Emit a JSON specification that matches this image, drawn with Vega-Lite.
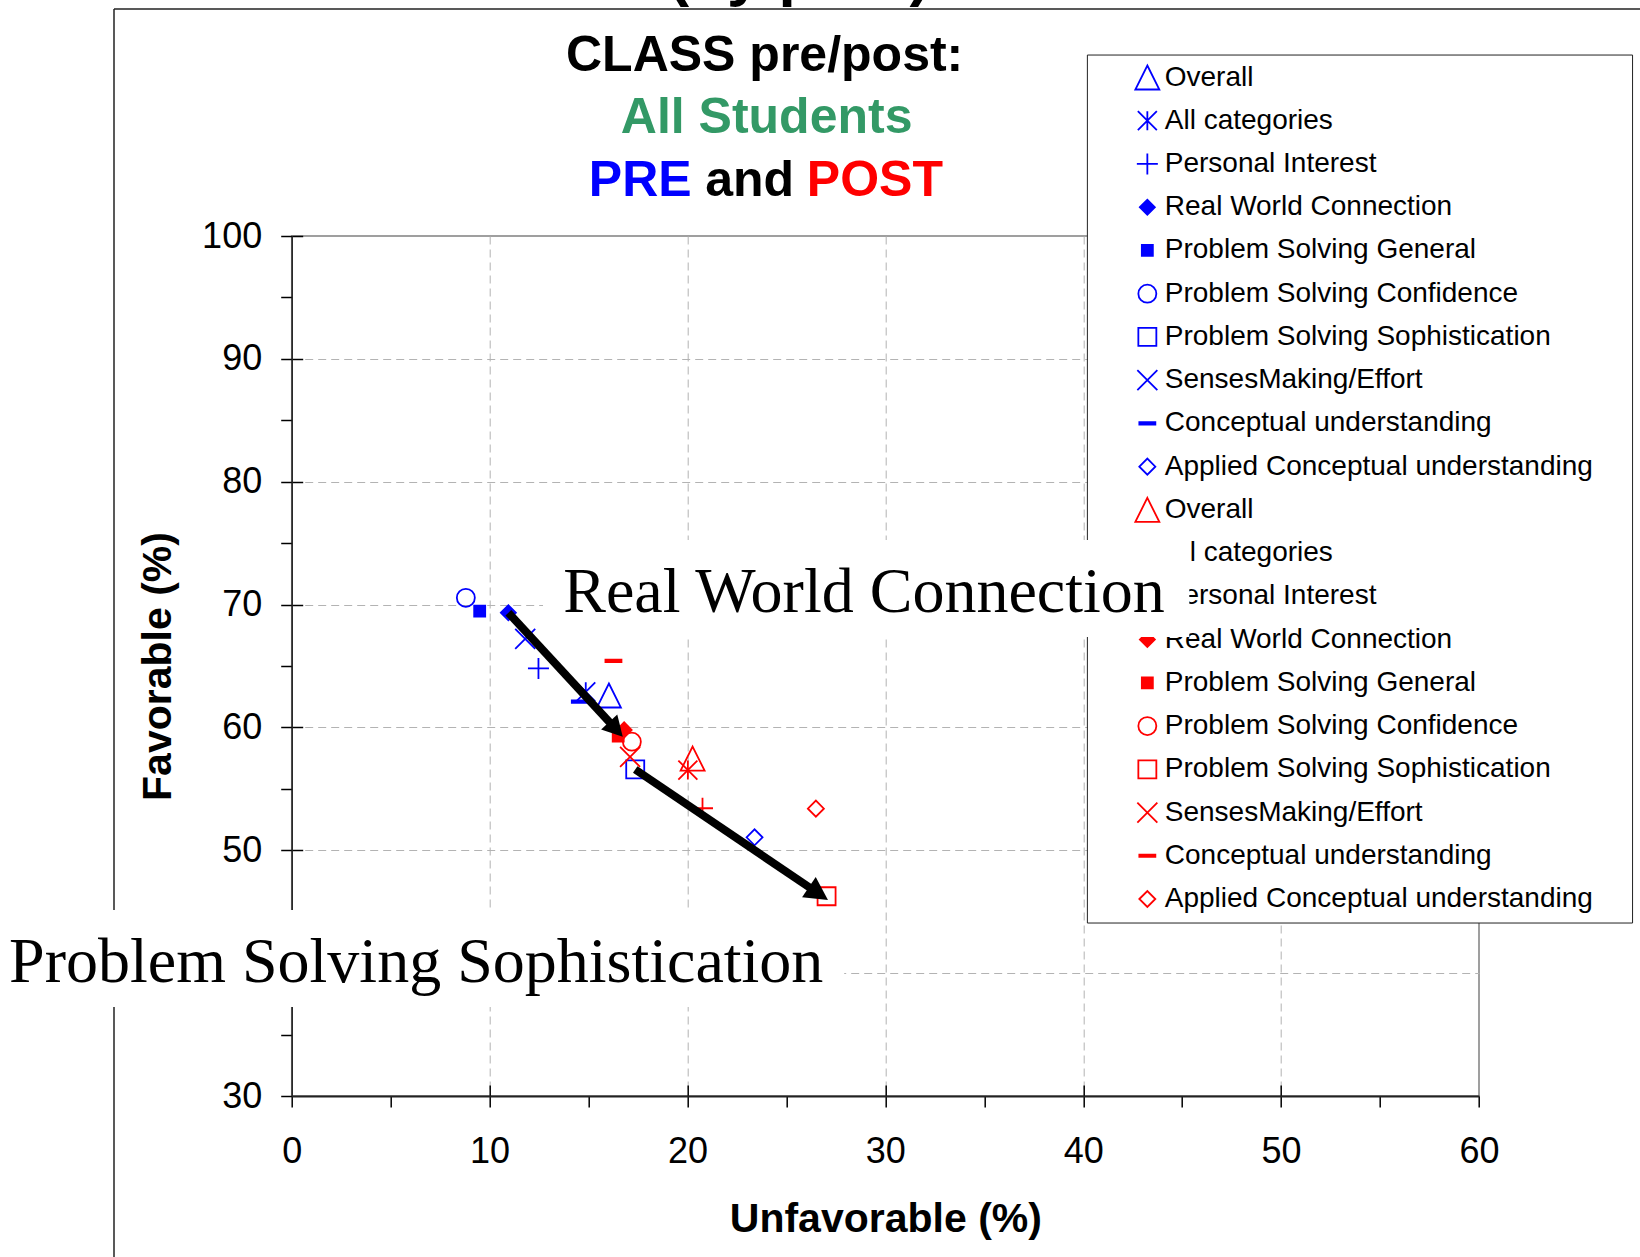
{
  "$schema": "https://vega.github.io/schema/vega-lite/v6.json",
  "width": 1187.3,
  "height": 860,
  "autosize": {"type": "none"},
  "padding": {"left": 291.7, "top": 236, "right": 161, "bottom": 161},
  "background": "white",
  "config": {"view": {"stroke": "#808080", "strokeWidth": 1.5}, "font": "Liberation Sans"},
  "datasets": {
    "class": [
      {"phase": "PRE", "category": "Overall", "series": "PRE: Overall", "unfav": 16.03, "fav": 62.6},
      {"phase": "PRE", "category": "All categories", "series": "PRE: All categories", "unfav": 14.86, "fav": 62.9},
      {"phase": "PRE", "category": "Personal Interest", "series": "PRE: Personal Interest", "unfav": 12.47, "fav": 64.8},
      {"phase": "PRE", "category": "Real World Connection", "series": "PRE: Real World Connection", "unfav": 10.95, "fav": 69.34},
      {"phase": "PRE", "category": "Problem Solving General", "series": "PRE: Problem Solving General", "unfav": 9.5, "fav": 69.46},
      {"phase": "PRE", "category": "Problem Solving Confidence", "series": "PRE: Problem Solving Confidence", "unfav": 8.8, "fav": 70.55},
      {"phase": "PRE", "category": "Problem Solving Sophistication", "series": "PRE: Problem Solving Sophistication", "unfav": 17.36, "fav": 56.58},
      {"phase": "PRE", "category": "SensesMaking/Effort", "series": "PRE: SensesMaking/Effort", "unfav": 11.8, "fav": 67.2},
      {"phase": "PRE", "category": "Conceptual understanding", "series": "PRE: Conceptual understanding", "unfav": 14.56, "fav": 62.1},
      {"phase": "PRE", "category": "Applied Conceptual understanding", "series": "PRE: Applied Conceptual understanding", "unfav": 23.39, "fav": 51.06},
      {"phase": "POST", "category": "Overall", "series": "POST: Overall", "unfav": 20.26, "fav": 57.46},
      {"phase": "POST", "category": "All categories", "series": "POST: All categories", "unfav": 20.02, "fav": 56.53},
      {"phase": "POST", "category": "Personal Interest", "series": "POST: Personal Interest", "unfav": 20.76, "fav": 53.42},
      {"phase": "POST", "category": "Real World Connection", "series": "POST: Real World Connection", "unfav": 16.8, "fav": 59.8},
      {"phase": "POST", "category": "Problem Solving General", "series": "POST: Problem Solving General", "unfav": 16.5, "fav": 59.3},
      {"phase": "POST", "category": "Problem Solving Confidence", "series": "POST: Problem Solving Confidence", "unfav": 17.19, "fav": 58.84},
      {"phase": "POST", "category": "Problem Solving Sophistication", "series": "POST: Problem Solving Sophistication", "unfav": 27.03, "fav": 46.26},
      {"phase": "POST", "category": "SensesMaking/Effort", "series": "POST: SensesMaking/Effort", "unfav": 17.1, "fav": 57.6},
      {"phase": "POST", "category": "Conceptual understanding", "series": "POST: Conceptual understanding", "unfav": 16.26, "fav": 65.41},
      {"phase": "POST", "category": "Applied Conceptual understanding", "series": "POST: Applied Conceptual understanding", "unfav": 26.49, "fav": 53.39}
    ]
  },
  "resolve": {"scale": {"y": "independent", "x": "independent"}},
  "layer": [
    {
      "data": {"values": [{}]},
      "layer": [
        {
          "mark": {"type": "rule", "color": "#222222", "strokeWidth": 1.5},
          "encoding": {
            "x": {"datum": -8.98, "type": "quantitative", "scale": {"domain": [0, 60], "nice": false, "zero": false},
              "axis": {"orient": "bottom", "values": [10, 20, 30, 40, 50], "tickSize": -11, "tickColor": "black", "tickWidth": 1.5, "labels": false, "domain": false, "grid": false, "title": null}},
            "y": {"datum": 118.48, "type": "quantitative", "scale": {"domain": [30, 100], "nice": false, "zero": false},
              "axis": {"orient": "left", "values": [40, 50, 60, 70, 80, 90, 100], "tickSize": -11, "tickColor": "black", "tickWidth": 1.5, "labels": false, "domain": false, "grid": false, "title": null}},
            "y2": {"datum": 10}
          }
        },
        {
          "mark": {"type": "rule", "color": "#222222", "strokeWidth": 1.5},
          "encoding": {
            "x": {"datum": -8.98, "type": "quantitative"},
            "x2": {"datum": 75},
            "y": {"datum": 118.48, "type": "quantitative"}
          }
        },
        {
          "mark": {"type": "rect", "fill": "white", "stroke": "#222222", "strokeWidth": 1},
          "encoding": {
            "x": {"datum": 40.21, "type": "quantitative"},
            "x2": {"datum": 67.76},
            "y": {"datum": 114.73, "type": "quantitative"},
            "y2": {"datum": 44.08}
          }
        }
      ]
    },
    {
      "data": {"name": "class"},
      "layer": [
        {
          "mark": {"type": "point", "opacity": 1, "strokeWidth": 1.8},
          "encoding": {
            "x": {"datum": 43.24, "type": "quantitative", "scale": {"domain": [0, 60], "nice": false, "zero": false}, "axis": null},
            "y": {"field": "series", "type": "nominal", "sort": null, "axis": null,
              "scale": {"type": "point", "padding": 0, "range": [-158.5, 663],
                "domain": ["PRE: Overall", "PRE: All categories", "PRE: Personal Interest", "PRE: Real World Connection", "PRE: Problem Solving General", "PRE: Problem Solving Confidence", "PRE: Problem Solving Sophistication", "PRE: SensesMaking/Effort", "PRE: Conceptual understanding", "PRE: Applied Conceptual understanding", "POST: Overall", "POST: All categories", "POST: Personal Interest", "POST: Real World Connection", "POST: Problem Solving General", "POST: Problem Solving Confidence", "POST: Problem Solving Sophistication", "POST: SensesMaking/Effort", "POST: Conceptual understanding", "POST: Applied Conceptual understanding"]}},
            "shape": {"field": "category", "type": "nominal", "legend": null,
              "scale": {"domain": ["Overall", "All categories", "Personal Interest", "Real World Connection", "Problem Solving General", "Problem Solving Confidence", "Problem Solving Sophistication", "SensesMaking/Effort", "Conceptual understanding", "Applied Conceptual understanding"],
                "range": ["M0,-1L1,1L-1,1Z", "M-1,-1L1,1M-1,1L1,-1M0,-1L0,1", "M-1,0L1,0M0,-1L0,1", "diamond", "square", "circle", "square", "M-1,-1L1,1M-1,1L1,-1", "M-1,-0.15L1,-0.15L1,0.15L-1,0.15Z", "diamond"]}},
            "size": {"field": "category", "type": "nominal", "legend": null,
              "scale": {"type": "ordinal", "domain": ["Overall", "All categories", "Personal Interest", "Real World Connection", "Problem Solving General", "Problem Solving Confidence", "Problem Solving Sophistication", "SensesMaking/Effort", "Conceptual understanding", "Applied Conceptual understanding"],
                "range": [576, 361, 441, 225, 121, 324, 324, 400, 256, 256]}},
            "stroke": {"field": "phase", "type": "nominal", "legend": null, "scale": {"domain": ["PRE", "POST"], "range": ["#0000ff", "#ff0000"]}},
            "fill": {"field": "series", "type": "nominal", "legend": null,
              "scale": {"domain": ["PRE: Overall", "PRE: All categories", "PRE: Personal Interest", "PRE: Real World Connection", "PRE: Problem Solving General", "PRE: Problem Solving Confidence", "PRE: Problem Solving Sophistication", "PRE: SensesMaking/Effort", "PRE: Conceptual understanding", "PRE: Applied Conceptual understanding", "POST: Overall", "POST: All categories", "POST: Personal Interest", "POST: Real World Connection", "POST: Problem Solving General", "POST: Problem Solving Confidence", "POST: Problem Solving Sophistication", "POST: SensesMaking/Effort", "POST: Conceptual understanding", "POST: Applied Conceptual understanding"],
                "range": ["transparent", "transparent", "transparent", "#0000ff", "#0000ff", "transparent", "transparent", "transparent", "#0000ff", "transparent", "transparent", "transparent", "transparent", "#ff0000", "#ff0000", "transparent", "transparent", "transparent", "#ff0000", "transparent"]}}
          }
        },
        {
          "mark": {"type": "text", "align": "left", "baseline": "middle", "font": "Liberation Sans", "fontSize": 28, "color": "black"},
          "encoding": {
            "x": {"datum": 44.12, "type": "quantitative"},
            "y": {"field": "series", "type": "nominal", "sort": null},
            "text": {"field": "category", "type": "nominal"}
          }
        }
      ]
    },
    {
      "layer": [
        {
          "data": {"name": "class"},
          "mark": {"type": "point", "opacity": 1, "strokeWidth": 1.8},
          "encoding": {
            "x": {"field": "unfav", "type": "quantitative", "scale": {"domain": [0, 60], "nice": false, "zero": false},
              "axis": {"orient": "bottom", "values": [0, 5, 10, 15, 20, 25, 30, 35, 40, 45, 50, 55, 60],
                "labelExpr": "datum.value % 10 === 0 ? datum.label : ''",
                "labelFont": "Liberation Sans", "labelFontSize": 36, "labelColor": "black", "labelPadding": 27, "labelOverlap": false, "labelFlush": false,
                "tickSize": 11, "tickColor": "black", "tickWidth": 1.5,
                "domainColor": "#222222", "domainWidth": 2,
                "grid": true, "gridColor": "#b3b3b3", "gridDash": [8, 5], "gridWidth": 1,
                "gridOpacity": {"condition": {"test": "datum.value % 10 === 0 && datum.value > 0 && datum.value < 60", "value": 1}, "value": 0},
                "title": "Unfavorable (%)", "titleFont": "Liberation Sans", "titleFontSize": 41, "titleFontWeight": "bold", "titleColor": "black", "titlePadding": 30}},
            "y": {"field": "fav", "type": "quantitative", "scale": {"domain": [30, 100], "nice": false, "zero": false},
              "axis": {"orient": "left", "values": [30, 35, 40, 45, 50, 55, 60, 65, 70, 75, 80, 85, 90, 95, 100],
                "labelExpr": "datum.value % 10 === 0 && datum.value !== 40 ? datum.label : ''",
                "labelFont": "Liberation Sans", "labelFontSize": 36, "labelColor": "black", "labelPadding": 19, "labelOverlap": false, "labelFlush": false,
                "tickSize": 11, "tickColor": "black", "tickWidth": 1.5,
                "domainColor": "#222222", "domainWidth": 1.5,
                "grid": true, "gridColor": "#b3b3b3", "gridDash": [8, 5], "gridWidth": 1,
                "gridOpacity": {"condition": {"test": "datum.value % 10 === 0 && datum.value > 30 && datum.value < 100", "value": 1}, "value": 0},
                "title": "Favorable (%)", "titleFont": "Liberation Sans", "titleFontSize": 41, "titleFontWeight": "bold", "titleColor": "black", "titlePadding": 22}},
            "shape": {"field": "category", "type": "nominal", "legend": null,
              "scale": {"domain": ["Overall", "All categories", "Personal Interest", "Real World Connection", "Problem Solving General", "Problem Solving Confidence", "Problem Solving Sophistication", "SensesMaking/Effort", "Conceptual understanding", "Applied Conceptual understanding"],
                "range": ["M0,-1L1,1L-1,1Z", "M-1,-1L1,1M-1,1L1,-1M0,-1L0,1", "M-1,0L1,0M0,-1L0,1", "diamond", "square", "circle", "square", "M-1,-1L1,1M-1,1L1,-1", "M-1,-0.15L1,-0.15L1,0.15L-1,0.15Z", "diamond"]}},
            "size": {"field": "category", "type": "nominal", "legend": null,
              "scale": {"type": "ordinal", "domain": ["Overall", "All categories", "Personal Interest", "Real World Connection", "Problem Solving General", "Problem Solving Confidence", "Problem Solving Sophistication", "SensesMaking/Effort", "Conceptual understanding", "Applied Conceptual understanding"],
                "range": [576, 361, 441, 225, 121, 324, 324, 400, 256, 256]}},
            "stroke": {"field": "phase", "type": "nominal", "legend": null, "scale": {"domain": ["PRE", "POST"], "range": ["#0000ff", "#ff0000"]}},
            "fill": {"field": "series", "type": "nominal", "legend": null,
              "scale": {"domain": ["PRE: Overall", "PRE: All categories", "PRE: Personal Interest", "PRE: Real World Connection", "PRE: Problem Solving General", "PRE: Problem Solving Confidence", "PRE: Problem Solving Sophistication", "PRE: SensesMaking/Effort", "PRE: Conceptual understanding", "PRE: Applied Conceptual understanding", "POST: Overall", "POST: All categories", "POST: Personal Interest", "POST: Real World Connection", "POST: Problem Solving General", "POST: Problem Solving Confidence", "POST: Problem Solving Sophistication", "POST: SensesMaking/Effort", "POST: Conceptual understanding", "POST: Applied Conceptual understanding"],
                "range": ["transparent", "transparent", "transparent", "#0000ff", "#0000ff", "transparent", "transparent", "transparent", "#0000ff", "transparent", "transparent", "transparent", "transparent", "#ff0000", "#ff0000", "transparent", "transparent", "transparent", "#ff0000", "transparent"]}}
          }
        },
        {
          "data": {"values": [{}]},
          "mark": {"type": "rule", "color": "black", "strokeWidth": 8, "strokeCap": "butt"},
          "encoding": {
            "x": {"datum": 10.95, "type": "quantitative"}, "y": {"datum": 69.34, "type": "quantitative"},
            "x2": {"datum": 16.39}, "y2": {"datum": 59.85}
          }
        },
        {
          "data": {"values": [{}]},
          "mark": {"type": "point", "shape": "M0,0L-1,-0.55L-1,0.55Z", "size": 1600, "angle": 47.3, "filled": true, "color": "black", "opacity": 1, "strokeWidth": 0},
          "encoding": {"x": {"datum": 16.73, "type": "quantitative"}, "y": {"datum": 59.25, "type": "quantitative"}}
        },
        {
          "data": {"values": [{}]},
          "mark": {"type": "rule", "color": "black", "strokeWidth": 8, "strokeCap": "butt"},
          "encoding": {
            "x": {"datum": 17.36, "type": "quantitative"}, "y": {"datum": 56.58, "type": "quantitative"},
            "x2": {"datum": 26.62}, "y2": {"datum": 46.48}
          }
        },
        {
          "data": {"values": [{}]},
          "mark": {"type": "point", "shape": "M0,0L-1,-0.53L-1,0.53Z", "size": 2116, "angle": 34.1, "filled": true, "color": "black", "opacity": 1, "strokeWidth": 0},
          "encoding": {"x": {"datum": 27.1, "type": "quantitative"}, "y": {"datum": 45.95, "type": "quantitative"}}
        },
        {
          "data": {"values": [{}]},
          "mark": {"type": "rect", "fill": "white", "strokeWidth": 0},
          "encoding": {
            "x": {"datum": -16, "type": "quantitative"}, "x2": {"datum": 27.92},
            "y": {"datum": 45.14, "type": "quantitative"}, "y2": {"datum": 37.25}
          }
        },
        {
          "data": {"values": [{}]},
          "mark": {"type": "text", "text": "Problem Solving Sophistication", "font": "Liberation Serif", "fontSize": 64, "align": "left", "baseline": "alphabetic", "color": "black"},
          "encoding": {"x": {"datum": -14.28, "type": "quantitative"}, "y": {"datum": 39.28, "type": "quantitative"}}
        },
        {
          "data": {"values": [{}]},
          "mark": {"type": "rect", "fill": "white", "strokeWidth": 0},
          "encoding": {
            "x": {"datum": 12.7, "type": "quantitative"}, "x2": {"datum": 45.36},
            "y": {"datum": 75.26, "type": "quantitative"}, "y2": {"datum": 67.36}
          }
        },
        {
          "data": {"values": [{}]},
          "mark": {"type": "text", "text": "Real World Connection", "font": "Liberation Serif", "fontSize": 64, "align": "left", "baseline": "alphabetic", "color": "black"},
          "encoding": {"x": {"datum": 13.72, "type": "quantitative"}, "y": {"datum": 69.4, "type": "quantitative"}}
        },
        {
          "data": {"values": [{}]},
          "mark": {"type": "text", "text": "CLASS pre/post:", "font": "Liberation Sans", "fontWeight": "bold", "fontSize": 50, "align": "center", "baseline": "alphabetic", "color": "black"},
          "encoding": {"x": {"datum": 23.9, "type": "quantitative"}, "y": {"datum": 113.43, "type": "quantitative"}}
        },
        {
          "data": {"values": [{}]},
          "mark": {"type": "text", "text": "All Students", "font": "Liberation Sans", "fontWeight": "bold", "fontSize": 50, "align": "center", "baseline": "alphabetic", "color": "#339966"},
          "encoding": {"x": {"datum": 24.0, "type": "quantitative"}, "y": {"datum": 108.38, "type": "quantitative"}}
        },
        {
          "data": {"values": [{}]},
          "mark": {"type": "text", "text": "PRE", "font": "Liberation Sans", "fontWeight": "bold", "fontSize": 50, "align": "right", "baseline": "alphabetic", "color": "#0000ff"},
          "encoding": {"x": {"datum": 20.21, "type": "quantitative"}, "y": {"datum": 103.26, "type": "quantitative"}}
        },
        {
          "data": {"values": [{}]},
          "mark": {"type": "text", "text": "and", "font": "Liberation Sans", "fontWeight": "bold", "fontSize": 50, "align": "center", "baseline": "alphabetic", "color": "black"},
          "encoding": {"x": {"datum": 23.14, "type": "quantitative"}, "y": {"datum": 103.26, "type": "quantitative"}}
        },
        {
          "data": {"values": [{}]},
          "mark": {"type": "text", "text": "POST", "font": "Liberation Sans", "fontWeight": "bold", "fontSize": 50, "align": "left", "baseline": "alphabetic", "color": "#ff0000"},
          "encoding": {"x": {"datum": 26.03, "type": "quantitative"}, "y": {"datum": 103.26, "type": "quantitative"}}
        },
        {
          "data": {"values": [{}]},
          "mark": {"type": "text", "text": "(by post)", "font": "Liberation Sans", "fontWeight": "bold", "fontSize": 62, "align": "center", "baseline": "alphabetic", "color": "black"},
          "encoding": {"x": {"datum": 25.65, "type": "quantitative"}, "y": {"datum": 119.73, "type": "quantitative"}}
        }
      ]
    }
  ]
}
